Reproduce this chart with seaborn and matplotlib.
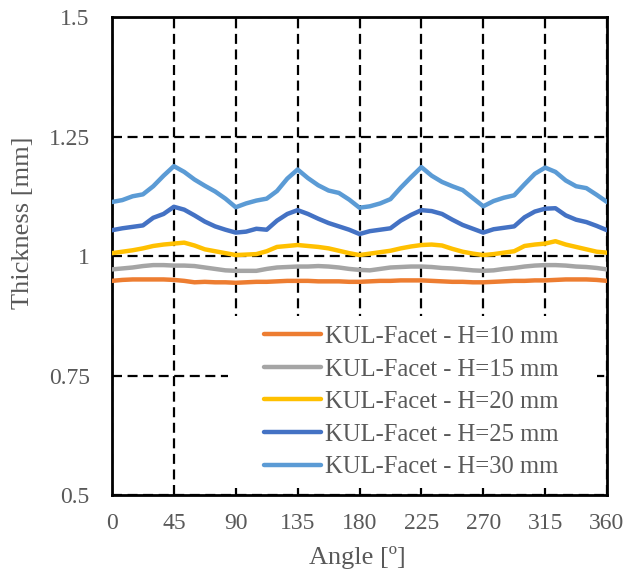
import matplotlib
matplotlib.use("Agg")
import matplotlib.pyplot as plt
from matplotlib.patches import Rectangle
import numpy as np
import pandas as pd
import seaborn as sns

# angle grid (degrees) and thickness readings per punch height
angle = np.arange(0, 360.1, 7.5)

h10 = [0.948, 0.950, 0.951, 0.951, 0.951, 0.951, 0.950, 0.948, 0.945, 0.946,
       0.945, 0.945, 0.944, 0.945, 0.946, 0.946, 0.947, 0.948, 0.948, 0.948,
       0.947, 0.947, 0.947, 0.946, 0.946, 0.947, 0.948, 0.948, 0.949, 0.949,
       0.949, 0.948, 0.947, 0.946, 0.946, 0.945, 0.945, 0.946, 0.947, 0.948,
       0.948, 0.949, 0.949, 0.950, 0.951, 0.951, 0.951, 0.950, 0.948]
h15 = [0.972, 0.974, 0.976, 0.979, 0.981, 0.981, 0.980, 0.980, 0.979, 0.976,
       0.973, 0.970, 0.969, 0.969, 0.969, 0.973, 0.976, 0.977, 0.978, 0.978,
       0.979, 0.978, 0.976, 0.973, 0.971, 0.970, 0.973, 0.976, 0.977, 0.978,
       0.978, 0.977, 0.975, 0.974, 0.972, 0.970, 0.969, 0.970, 0.973, 0.975,
       0.978, 0.980, 0.981, 0.981, 0.980, 0.978, 0.977, 0.975, 0.972]
h20 = [1.006, 1.009, 1.012, 1.016, 1.021, 1.024, 1.026, 1.028, 1.022, 1.014,
       1.010, 1.006, 1.002, 1.003, 1.004, 1.010, 1.019, 1.021, 1.023, 1.021,
       1.019, 1.016, 1.011, 1.006, 1.002, 1.005, 1.008, 1.011, 1.016, 1.020,
       1.023, 1.024, 1.022, 1.015, 1.009, 1.005, 1.002, 1.004, 1.007, 1.010,
       1.021, 1.024, 1.026, 1.031, 1.024, 1.019, 1.014, 1.009, 1.007]
h25 = [1.054, 1.058, 1.061, 1.064, 1.080, 1.088, 1.103, 1.097, 1.085, 1.072,
       1.062, 1.055, 1.049, 1.051, 1.057, 1.055, 1.074, 1.088, 1.096, 1.088,
       1.078, 1.069, 1.062, 1.055, 1.046, 1.052, 1.055, 1.058, 1.074, 1.086,
       1.096, 1.094, 1.088, 1.076, 1.065, 1.057, 1.049, 1.056, 1.059, 1.062,
       1.081, 1.093, 1.099, 1.100, 1.085, 1.076, 1.071, 1.063, 1.054]
h30 = [1.113, 1.117, 1.125, 1.129, 1.146, 1.168, 1.188, 1.176, 1.160, 1.147,
       1.135, 1.120, 1.102, 1.110, 1.116, 1.120, 1.136, 1.162, 1.181, 1.163,
       1.148, 1.137, 1.132, 1.118, 1.101, 1.104, 1.110, 1.119, 1.143, 1.165,
       1.186, 1.168, 1.155, 1.146, 1.138, 1.121, 1.104, 1.115, 1.122, 1.127,
       1.150, 1.172, 1.185, 1.176, 1.158, 1.146, 1.142, 1.128, 1.113]

labels = ["KUL-Facet - H=10 mm", "KUL-Facet - H=15 mm", "KUL-Facet - H=20 mm",
          "KUL-Facet - H=25 mm", "KUL-Facet - H=30 mm"]
colors = ["#ED7D31", "#A5A5A5", "#FFC000", "#4472C4", "#5B9BD5"]
series = [h10, h15, h20, h25, h30]

xticks = [0, 45, 90, 135, 180, 225, 270, 315, 360]
yticks = [0.5, 0.75, 1.0, 1.25, 1.5]
ytick_labels = ["0.5", "0.75", "1", "1.25", "1.5"]

sns.set_style("white")
plt.rcParams["font.family"] = ["Liberation Serif", "DejaVu Serif"]
text_col = "#595959"

fig, ax = plt.subplots(figsize=(6.25, 5.81), dpi=100)
fig.subplots_adjust(left=0.1792, right=0.9712, top=0.9707, bottom=0.148)

for vals, lab, col in zip(series, labels, colors):
    df = pd.DataFrame({"angle": angle, "thickness": vals})
    sns.lineplot(data=df, x="angle", y="thickness", color=col, linewidth=3.2,
                 label=lab, ax=ax, zorder=3)

ax.set_xlim(0, 360)
ax.set_ylim(0.5, 1.5)
ax.set_xticks(xticks)
ax.set_yticks(yticks)
ax.set_yticklabels(ytick_labels)
ax.set_axisbelow(True)
ax.grid(True, color="black", linestyle=(0, (4.5, 2.5)), linewidth=1.6)
ax.tick_params(length=0, labelsize=17, labelcolor=text_col)
ax.tick_params(axis="y", pad=16)
ax.tick_params(axis="x", pad=13)
for sp in ax.spines.values():
    sp.set_color("black")
    sp.set_linewidth(2)

ax.set_xlabel("Angle [º]", fontsize=19, color=text_col)
ax.set_ylabel("Thickness [mm]", fontsize=19, color=text_col)
ax.xaxis.set_label_coords(0.495, -0.107)
ax.yaxis.set_label_coords(-0.158, 0.569)

# white area behind the legend
ax.add_patch(Rectangle((0.234, 0.0146), 0.746, 0.36, transform=ax.transAxes,
                       facecolor="white", edgecolor="none", zorder=1))

leg = ax.legend(loc="upper left", bbox_to_anchor=(0.307, 0.354), frameon=False,
                borderpad=0, borderaxespad=0, handlelength=2.3,
                handletextpad=0.17, labelspacing=0.42, fontsize=17.7)
for t in leg.get_texts():
    t.set_color(text_col)

fig.savefig("out.png", dpi=100)
